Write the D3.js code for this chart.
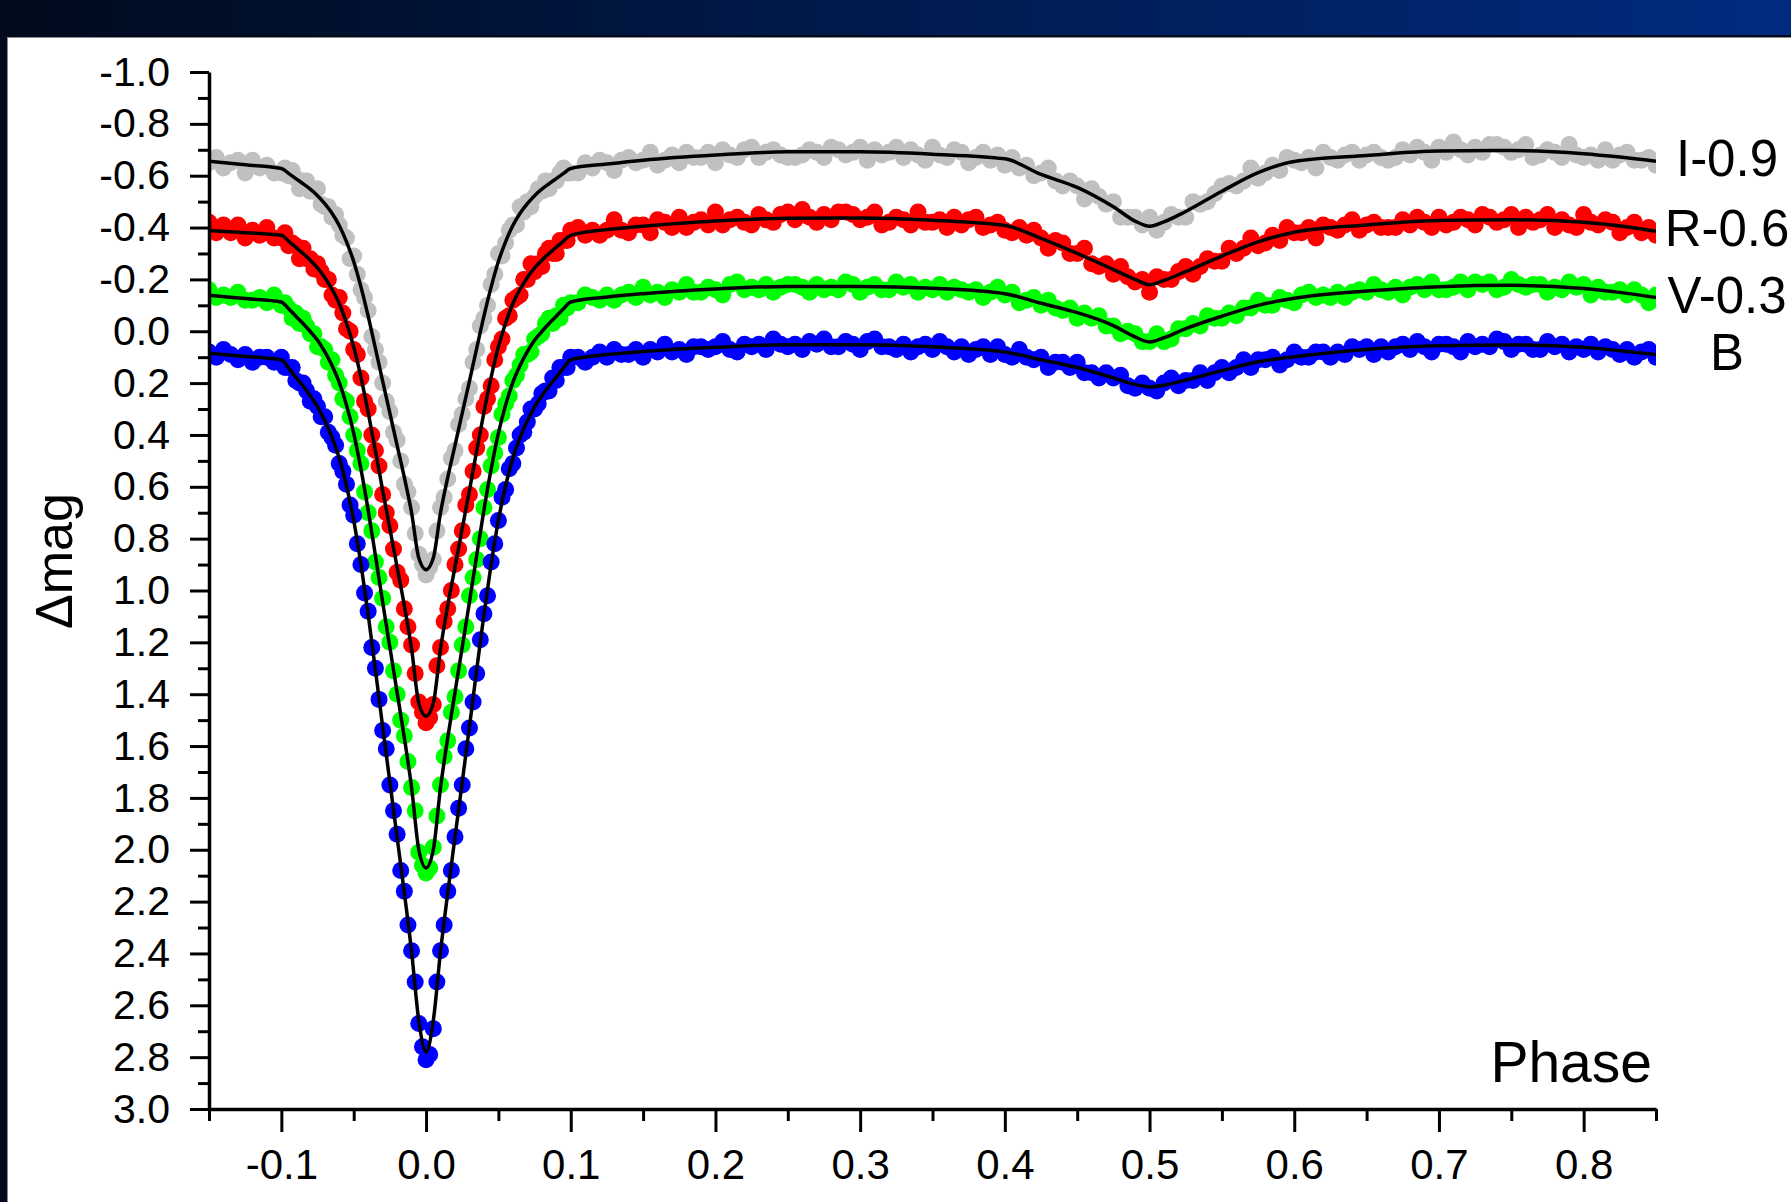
<!DOCTYPE html>
<html>
<head>
<meta charset="utf-8">
<script src="https://cdn.jsdelivr.net/npm/d3@7"></script>
<style>
  body { margin: 0; background: #fff; }
  svg { display: block; font-family: "Liberation Sans", Arial, sans-serif; }
</style>
</head>
<body>
<div id="chart"></div>
<script>
// Observation phase grid: coarse outside the primary eclipse, finer inside it
const obsPhase = [
  ...d3.range(-1500, -1000, 50),
  ...d3.range(-1000, 1001, 25),
  ...d3.range(1050, 8501, 50)
].map((v) => v / 10000);

const obsI = [
  -0.65, -0.67, -0.63, -0.65, -0.66, -0.61, -0.66, -0.63, -0.64, -0.61,
  -0.61, -0.63, -0.60, -0.62, -0.59, -0.55, -0.58, -0.58, -0.54, -0.54, -0.55, -0.49, -0.48, -0.48, -0.44, -0.45, -0.41, -0.37, -0.36, -0.28,
  -0.29, -0.22, -0.16, -0.13, -0.08, 0.02, 0.07, 0.12, 0.20, 0.27, 0.31, 0.39, 0.42, 0.50, 0.59, 0.62, 0.68, 0.78, 0.86, 0.90, 0.94,
  0.91, 0.88, 0.77, 0.68, 0.64, 0.57, 0.49, 0.46, 0.36, 0.32, 0.26, 0.22, 0.12, 0.07, -0.02, -0.05, -0.10, -0.18, -0.22, -0.30,
  -0.29, -0.34, -0.39, -0.41, -0.41, -0.48, -0.46, -0.50, -0.48, -0.52, -0.55, -0.54, -0.58, -0.55, -0.58, -0.58, -0.61, -0.63, -0.61, -0.61,
  -0.61, -0.65, -0.63, -0.66, -0.65, -0.62, -0.66, -0.67, -0.65, -0.66, -0.69, -0.64, -0.66, -0.68, -0.65, -0.69, -0.67, -0.67, -0.69, -0.65,
  -0.70, -0.68, -0.67, -0.70, -0.71, -0.67, -0.69, -0.70, -0.68, -0.67, -0.67, -0.68, -0.70, -0.69, -0.67, -0.71, -0.70, -0.68, -0.69, -0.71,
  -0.66, -0.70, -0.68, -0.69, -0.71, -0.67, -0.70, -0.68, -0.66, -0.71, -0.68, -0.67, -0.70, -0.69, -0.65, -0.67, -0.69, -0.66, -0.68, -0.64,
  -0.67, -0.63, -0.64, -0.60, -0.61, -0.63, -0.58, -0.56, -0.58, -0.56, -0.51, -0.55, -0.52, -0.49, -0.50, -0.44, -0.44, -0.44, -0.41, -0.44,
  -0.39, -0.42, -0.45, -0.44, -0.44, -0.50, -0.49, -0.50, -0.53, -0.56, -0.57, -0.56, -0.58, -0.63, -0.59, -0.61, -0.64, -0.62, -0.67, -0.66,
  -0.65, -0.67, -0.63, -0.69, -0.67, -0.66, -0.68, -0.69, -0.66, -0.68, -0.69, -0.67, -0.66, -0.67, -0.70, -0.68, -0.71, -0.69, -0.66, -0.71,
  -0.69, -0.73, -0.70, -0.68, -0.71, -0.69, -0.72, -0.72, -0.71, -0.69, -0.70, -0.72, -0.67, -0.68, -0.70, -0.69, -0.67, -0.72, -0.68, -0.67,
  -0.68, -0.66, -0.70, -0.66, -0.68, -0.69, -0.66, -0.66, -0.67, -0.64
];
const obsR = [
  -0.42, -0.38, -0.41, -0.38, -0.41, -0.36, -0.39, -0.37, -0.40, -0.36,
  -0.36, -0.38, -0.33, -0.34, -0.33, -0.28, -0.32, -0.28, -0.28, -0.24, -0.26, -0.23, -0.20, -0.20, -0.14, -0.12, -0.13, -0.07, -0.01, 0.00,
  0.07, 0.09, 0.18, 0.27, 0.30, 0.40, 0.46, 0.52, 0.63, 0.70, 0.75, 0.84, 0.93, 0.96, 1.07, 1.14, 1.21, 1.32, 1.43, 1.47, 1.51,
  1.49, 1.44, 1.29, 1.22, 1.12, 1.07, 1.00, 0.90, 0.84, 0.77, 0.67, 0.63, 0.54, 0.45, 0.40, 0.29, 0.26, 0.21, 0.11, 0.06,
  0.03, -0.05, -0.06, -0.12, -0.13, -0.14, -0.20, -0.20, -0.26, -0.23, -0.26, -0.25, -0.30, -0.32, -0.30, -0.30, -0.35, -0.35, -0.35, -0.39,
  -0.40, -0.37, -0.39, -0.37, -0.39, -0.43, -0.39, -0.38, -0.41, -0.41, -0.38, -0.43, -0.42, -0.40, -0.44, -0.40, -0.42, -0.43, -0.41, -0.46,
  -0.41, -0.43, -0.44, -0.42, -0.41, -0.45, -0.43, -0.42, -0.45, -0.46, -0.43, -0.47, -0.44, -0.42, -0.45, -0.43, -0.46, -0.46, -0.45, -0.43,
  -0.44, -0.46, -0.41, -0.42, -0.44, -0.43, -0.41, -0.46, -0.42, -0.42, -0.43, -0.40, -0.44, -0.41, -0.43, -0.44, -0.40, -0.41, -0.42, -0.39,
  -0.38, -0.40, -0.37, -0.39, -0.36, -0.32, -0.35, -0.34, -0.30, -0.30, -0.32, -0.26, -0.25, -0.26, -0.22, -0.25, -0.21, -0.19, -0.20, -0.15,
  -0.21, -0.20, -0.20, -0.23, -0.25, -0.22, -0.25, -0.28, -0.27, -0.27, -0.32, -0.30, -0.32, -0.36, -0.33, -0.34, -0.37, -0.35, -0.40, -0.38,
  -0.38, -0.40, -0.36, -0.41, -0.40, -0.39, -0.41, -0.43, -0.39, -0.41, -0.42, -0.40, -0.40, -0.40, -0.43, -0.41, -0.44, -0.42, -0.40, -0.44,
  -0.41, -0.42, -0.44, -0.43, -0.41, -0.45, -0.44, -0.42, -0.43, -0.45, -0.40, -0.44, -0.42, -0.43, -0.45, -0.40, -0.43, -0.41, -0.40, -0.45,
  -0.42, -0.41, -0.43, -0.42, -0.38, -0.40, -0.42, -0.38, -0.40, -0.37
];
const obsV = [
  -0.16, -0.13, -0.14, -0.13, -0.15, -0.12, -0.12, -0.13, -0.11, -0.14,
  -0.10, -0.11, -0.09, -0.05, -0.07, -0.03, -0.05, -0.02, 0.01, 0.01, 0.06, 0.06, 0.07, 0.12, 0.11, 0.17, 0.20, 0.26, 0.27, 0.33,
  0.40, 0.46, 0.51, 0.62, 0.70, 0.77, 0.89, 0.95, 1.03, 1.14, 1.20, 1.31, 1.40, 1.50, 1.56, 1.66, 1.76, 1.85, 2.01, 2.06, 2.09,
  2.07, 1.99, 1.87, 1.75, 1.64, 1.58, 1.47, 1.41, 1.31, 1.21, 1.14, 1.02, 0.95, 0.88, 0.80, 0.68, 0.61, 0.52, 0.47, 0.41,
  0.32, 0.28, 0.25, 0.19, 0.17, 0.13, 0.09, 0.09, 0.08, 0.03, 0.02, 0.01, -0.03, -0.05, -0.03, -0.06, -0.05, -0.10, -0.09, -0.11,
  -0.11, -0.14, -0.13, -0.12, -0.14, -0.12, -0.14, -0.15, -0.13, -0.17, -0.14, -0.15, -0.13, -0.16, -0.15, -0.18, -0.15, -0.15, -0.17, -0.16,
  -0.14, -0.18, -0.19, -0.16, -0.17, -0.16, -0.18, -0.15, -0.17, -0.18, -0.18, -0.17, -0.15, -0.18, -0.16, -0.17, -0.16, -0.19, -0.18, -0.15,
  -0.17, -0.18, -0.16, -0.16, -0.19, -0.17, -0.18, -0.15, -0.17, -0.16, -0.18, -0.15, -0.17, -0.16, -0.15, -0.16, -0.13, -0.15, -0.17, -0.14,
  -0.15, -0.11, -0.12, -0.13, -0.10, -0.12, -0.09, -0.08, -0.09, -0.05, -0.07, -0.05, -0.06, -0.02, -0.02, 0.01, 0.00, 0.01, 0.04, 0.04,
  0.01, 0.04, 0.03, -0.01, -0.01, -0.03, -0.02, -0.06, -0.05, -0.05, -0.07, -0.06, -0.09, -0.09, -0.12, -0.10, -0.10, -0.13, -0.12, -0.11,
  -0.14, -0.15, -0.13, -0.14, -0.13, -0.15, -0.13, -0.15, -0.16, -0.15, -0.18, -0.16, -0.15, -0.17, -0.14, -0.17, -0.18, -0.16, -0.19, -0.16,
  -0.16, -0.17, -0.19, -0.16, -0.19, -0.18, -0.19, -0.16, -0.17, -0.20, -0.18, -0.17, -0.18, -0.18, -0.15, -0.17, -0.16, -0.19, -0.17, -0.18,
  -0.14, -0.17, -0.15, -0.15, -0.16, -0.14, -0.16, -0.14, -0.11, -0.14
];
const obsB = [
  0.08, 0.10, 0.07, 0.09, 0.11, 0.09, 0.12, 0.10, 0.10, 0.12,
  0.10, 0.14, 0.14, 0.14, 0.19, 0.20, 0.20, 0.23, 0.27, 0.26, 0.29, 0.33, 0.33, 0.39, 0.41, 0.44, 0.51, 0.54, 0.59, 0.67,
  0.71, 0.82, 0.90, 1.01, 1.08, 1.22, 1.30, 1.42, 1.54, 1.61, 1.75, 1.85, 1.94, 2.08, 2.16, 2.29, 2.39, 2.51, 2.67, 2.76, 2.81,
  2.79, 2.69, 2.51, 2.39, 2.29, 2.16, 2.08, 1.95, 1.84, 1.75, 1.61, 1.53, 1.43, 1.32, 1.19, 1.09, 1.02, 0.89, 0.82, 0.73,
  0.64, 0.61, 0.53, 0.51, 0.45, 0.40, 0.39, 0.35, 0.30, 0.30, 0.28, 0.24, 0.23, 0.23, 0.18, 0.19, 0.14, 0.14, 0.14, 0.10,
  0.10, 0.12, 0.10, 0.08, 0.10, 0.07, 0.09, 0.09, 0.07, 0.10, 0.07, 0.08, 0.05, 0.08, 0.07, 0.09, 0.06, 0.06, 0.07, 0.06,
  0.04, 0.07, 0.08, 0.05, 0.06, 0.05, 0.07, 0.03, 0.05, 0.06, 0.05, 0.07, 0.04, 0.05, 0.03, 0.06, 0.06, 0.04, 0.05, 0.07,
  0.04, 0.03, 0.06, 0.06, 0.07, 0.05, 0.08, 0.06, 0.05, 0.07, 0.04, 0.06, 0.08, 0.06, 0.09, 0.07, 0.06, 0.09, 0.06, 0.09,
  0.10, 0.07, 0.10, 0.11, 0.10, 0.14, 0.12, 0.12, 0.14, 0.12, 0.16, 0.16, 0.18, 0.16, 0.18, 0.17, 0.21, 0.22, 0.20, 0.22,
  0.23, 0.20, 0.18, 0.21, 0.19, 0.19, 0.16, 0.19, 0.16, 0.14, 0.16, 0.14, 0.11, 0.14, 0.11, 0.11, 0.10, 0.13, 0.11, 0.08,
  0.10, 0.10, 0.08, 0.08, 0.10, 0.08, 0.09, 0.06, 0.07, 0.06, 0.09, 0.06, 0.08, 0.06, 0.05, 0.07, 0.04, 0.06, 0.08, 0.05,
  0.05, 0.06, 0.08, 0.04, 0.06, 0.05, 0.06, 0.03, 0.04, 0.07, 0.05, 0.05, 0.07, 0.07, 0.04, 0.06, 0.05, 0.08, 0.06, 0.07,
  0.05, 0.08, 0.06, 0.07, 0.09, 0.07, 0.10, 0.08, 0.07, 0.10
];

// Model (fitted) light curves
const modelPhase = [
  -0.15, -0.125, -0.1, -0.095, -0.09, -0.085, -0.08, -0.075, -0.07, -0.065, -0.06, -0.055, -0.05,
  -0.045, -0.04, -0.035, -0.03, -0.025, -0.02, -0.015, -0.01, -0.005, 0, 0.005, 0.01, 0.015, 0.02,
  0.025, 0.03, 0.035, 0.04, 0.045, 0.05, 0.055, 0.06, 0.065, 0.07, 0.075, 0.08, 0.085, 0.09, 0.095,
  0.1, 0.125, 0.15, 0.2, 0.25, 0.3, 0.35, 0.4, 0.425, 0.45, 0.475, 0.49, 0.5, 0.51, 0.525, 0.55,
  0.575, 0.6, 0.65, 0.7, 0.75, 0.8, 0.825, 0.85
];
const modelI = [
  -0.656, -0.642, -0.628,
  -0.609, -0.589, -0.569, -0.548, -0.523, -0.492, -0.455, -0.408, -0.346, -0.269, -0.171, -0.058, 0.066, 0.192, 0.316, 0.440, 0.564, 0.700, 0.875,
  0.920,
  0.875, 0.700, 0.564, 0.440, 0.316, 0.192, 0.066, -0.058, -0.171, -0.269, -0.346, -0.408, -0.455, -0.492, -0.523, -0.548, -0.569, -0.589, -0.609,
  -0.628, -0.645, -0.660, -0.680, -0.692, -0.692, -0.683, -0.665,
  -0.605, -0.555, -0.480, -0.425, -0.405, -0.422, -0.462, -0.540, -0.612, -0.655,
  -0.678, -0.695, -0.697, -0.685, -0.672, -0.656
];
const modelR = [
  -0.389, -0.380, -0.370,
  -0.348, -0.324, -0.300, -0.274, -0.244, -0.207, -0.162, -0.107, -0.032, 0.060, 0.177, 0.313, 0.461, 0.613, 0.762, 0.910, 1.058, 1.225, 1.435,
  1.485,
  1.435, 1.225, 1.058, 0.910, 0.762, 0.613, 0.461, 0.313, 0.177, 0.060, -0.032, -0.107, -0.162, -0.207, -0.244, -0.274, -0.300, -0.324, -0.348,
  -0.370, -0.392, -0.405, -0.425, -0.436, -0.437, -0.428, -0.408,
  -0.358, -0.300, -0.238, -0.200, -0.180, -0.196, -0.230, -0.290, -0.345, -0.382,
  -0.410, -0.427, -0.430, -0.420, -0.406, -0.386
];
const modelV = [
  -0.139, -0.126, -0.113,
  -0.087, -0.058, -0.030, 0.001, 0.035, 0.079, 0.132, 0.197, 0.284, 0.393, 0.531, 0.690, 0.865, 1.044, 1.219, 1.393, 1.568, 1.760, 2.000,
  2.070,
  2.000, 1.760, 1.568, 1.393, 1.219, 1.044, 0.865, 0.690, 0.531, 0.393, 0.284, 0.197, 0.132, 0.079, 0.035, 0.001, -0.030, -0.058, -0.087,
  -0.113, -0.132, -0.145, -0.163, -0.173, -0.173, -0.166, -0.145,
  -0.108, -0.072, -0.022, 0.022, 0.041, 0.025, -0.010, -0.058, -0.100, -0.127,
  -0.155, -0.172, -0.177, -0.165, -0.150, -0.130
];
const modelB = [
  0.085, 0.097, 0.110,
  0.142, 0.177, 0.211, 0.249, 0.292, 0.345, 0.409, 0.489, 0.596, 0.729, 0.898, 1.093, 1.306, 1.525, 1.739, 1.952, 2.166, 2.393, 2.660,
  2.780,
  2.660, 2.393, 2.166, 1.952, 1.739, 1.525, 1.306, 1.093, 0.898, 0.729, 0.596, 0.489, 0.409, 0.345, 0.292, 0.249, 0.211, 0.177, 0.142,
  0.110, 0.090, 0.078, 0.062, 0.052, 0.052, 0.060, 0.080,
  0.110, 0.140, 0.180, 0.205, 0.215, 0.208, 0.188, 0.152, 0.118, 0.098,
  0.070, 0.056, 0.053, 0.062, 0.075, 0.090
];

const bandNames = ["I-0.9", "R-0.6", "V-0.3", "B"];
const bandObs = [obsI, obsR, obsV, obsB];
const bandModel = [modelI, modelR, modelV, modelB];
const bandColors = ["#c0c0c0", "#ff0000", "#00ff00", "#0000ff"];

const yMajor = d3.range(-10, 31, 2).map((v) => v / 10);
const yMinor = d3.range(-9, 30, 2).map((v) => v / 10);
const xMajor = d3.range(-1, 9).map((v) => v / 10);
const xMinor = d3.range(-15, 86, 10).map((v) => v / 100);

const width = 1791, height = 1202;
const plot = { left: 209, right: 1656, top: 72, bottom: 1109 };

const svg = d3
  .select("#chart")
  .append("svg")
  .attr("width", width)
  .attr("height", height);

const defs = svg.append("defs");
const grad = defs
  .append("linearGradient")
  .attr("id", "banner")
  .attr("x1", 0).attr("x2", 1).attr("y1", 0).attr("y2", 0);
grad.append("stop").attr("offset", 0).attr("stop-color", "#000a1c");
grad.append("stop").attr("offset", 1).attr("stop-color", "#002b80");

defs
  .append("clipPath")
  .attr("id", "plot-clip")
  .append("rect")
  .attr("x", plot.left)
  .attr("y", plot.top)
  .attr("width", plot.right - plot.left)
  .attr("height", plot.bottom - plot.top);

// Frame: dark strip on the left, blue banner on top, white panel
svg.append("rect").attr("width", width).attr("height", height).attr("fill", "#000b1d");
svg.append("rect").attr("width", width).attr("height", 35).attr("fill", "url(#banner)");
svg.append("rect").attr("x", 7).attr("y", 37).attr("width", width - 7).attr("height", height - 37).attr("fill", "#8a8a8a");
svg.append("rect").attr("x", 8).attr("y", 38).attr("width", width - 8).attr("height", height - 38).attr("fill", "#fff");

const x = d3.scaleLinear().domain([-0.15, 0.85]).range([plot.left, plot.right]);
const y = d3.scaleLinear().domain([-1, 3]).range([plot.top, plot.bottom]);

// Observed points
const dots = svg.append("g").attr("clip-path", "url(#plot-clip)");
bandObs.forEach((obs, k) => {
  dots
    .append("g")
    .selectAll("circle")
    .data(obs.map((m, i) => [obsPhase[i], m]))
    .join("circle")
    .attr("cx", (d) => x(d[0]))
    .attr("cy", (d) => y(d[1]))
    .attr("r", 8.5)
    .attr("fill", bandColors[k]);
});

// Model curves
const line = d3
  .line()
  .x((d) => x(d[0]))
  .y((d) => y(d[1]))
  .curve(d3.curveMonotoneX);

const lines = svg.append("g").attr("clip-path", "url(#plot-clip)");
bandModel.forEach((model) => {
  lines
    .append("path")
    .datum(model.map((m, i) => [modelPhase[i], m]))
    .attr("fill", "none")
    .attr("stroke", "#000")
    .attr("stroke-width", 3.5)
    .attr("stroke-linejoin", "round")
    .attr("d", line);
});

// Band labels at the right end of each curve
bandModel.forEach((model, k) => {
  svg
    .append("text")
    .attr("x", 1727)
    .attr("y", y(model[model.length - 1]))
    .attr("dy", "0.3em")
    .attr("text-anchor", "middle")
    .attr("font-size", 51)
    .attr("fill", "#000")
    .text(bandNames[k]);
});

// Axes
function styleAxis(g, fontSize) {
  g.attr("font-family", null).attr("font-size", null);
  g.select(".domain").attr("stroke", "#000").attr("stroke-width", 3.5);
  g.selectAll(".tick line").attr("stroke", "#000").attr("stroke-width", 3);
  g.selectAll(".tick text").attr("fill", "#000").attr("font-size", fontSize);
}

const yAxisMinor = svg
  .append("g")
  .attr("transform", `translate(${plot.left},0)`)
  .call(d3.axisLeft(y).tickValues(yMinor).tickSize(11).tickFormat(""));
yAxisMinor.select(".domain").remove();
styleAxis(yAxisMinor, 0);

const yAxis = svg
  .append("g")
  .attr("transform", `translate(${plot.left},0)`)
  .call(
    d3.axisLeft(y)
      .tickValues(yMajor)
      .tickSize(19)
      .tickSizeOuter(0)
      .tickPadding(20)
      .tickFormat((d) => d.toFixed(1))
  );
styleAxis(yAxis, 41);

const xAxisMinor = svg
  .append("g")
  .attr("transform", `translate(0,${plot.bottom})`)
  .call(d3.axisBottom(x).tickValues(xMinor).tickSize(12).tickFormat(""));
xAxisMinor.select(".domain").remove();
styleAxis(xAxisMinor, 0);

const xAxis = svg
  .append("g")
  .attr("transform", `translate(0,${plot.bottom})`)
  .call(
    d3.axisBottom(x)
      .tickValues(xMajor)
      .tickSize(23)
      .tickSizeOuter(0)
      .tickPadding(17)
      .tickFormat((d) => d.toFixed(1))
  );
styleAxis(xAxis, 42);

// Axis titles
svg
  .append("text")
  .attr("x", 1652)
  .attr("y", 1082)
  .attr("text-anchor", "end")
  .attr("font-size", 57)
  .attr("fill", "#000")
  .text("Phase");

svg
  .append("text")
  .attr("transform", "translate(72,561) rotate(-90)")
  .attr("text-anchor", "middle")
  .attr("font-size", 52)
  .attr("fill", "#000")
  .text("Δmag");
</script>
</body>
</html>
